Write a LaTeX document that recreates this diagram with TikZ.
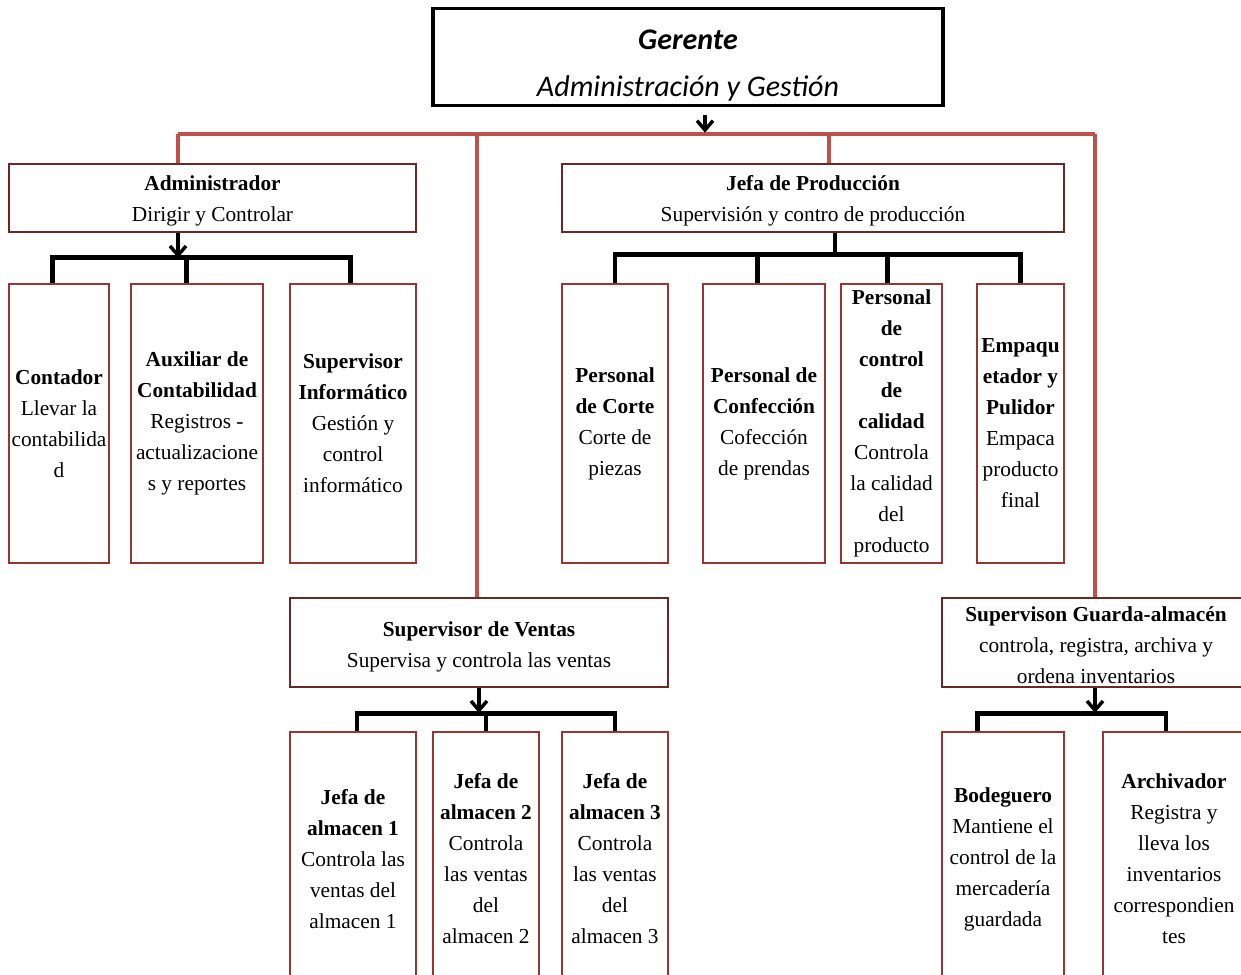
\documentclass[tikz,border=0pt]{standalone}
\usepackage{fontspec}
\setmainfont{Liberation Serif}
\newfontfamily\gerfont{Carlito}
\usepackage{tikz}
\usetikzlibrary{
  arrows.meta,
  positioning,
  calc
}
\definecolor{buscolor}{RGB}{192, 80, 77}
\definecolor{headborder}{RGB}{105, 40, 38}
\definecolor{unitborder}{RGB}{148, 54, 52}
\definecolor{labelcolor}{RGB}{0, 0, 0}
\tikzset{
blocktext/.style={
  align=center,
  font=\fontsize{16}{23.25}\selectfont,
  text=labelcolor,
  inner sep=0pt
},
gerblock/.style={
  draw=black,
  line width=2.4pt,
  minimum width=382.5pt,
  minimum height=70.5pt,
  align=center,
  font=\gerfont\fontsize{22.5}{26}\selectfont
},
headblock/.style={
  draw=headborder,
  line width=2.2pt,
  minimum height=51pt,
  blocktext
},
unitblock/.style={
  draw=unitborder,
  line width=2.2pt,
  minimum height=209.25pt,
  blocktext
},
lowblock/.style={
  unitblock,
  minimum height=190.5pt
},
busline/.style={
  draw=buscolor,
  line width=3pt
},
bracket/.style={
  draw=black,
  line width=3.4pt,
  line join=miter
},
arrow/.style={
  -{Straight Barb[length=7pt,width=12pt]},
  line width=2.6pt,
  draw=black
}
}
\begin{document}
\begin{tikzpicture}[x=0.75pt, y=-0.75pt]
  \useasboundingbox (0,0) rectangle (1241,974);
  \clip (0,0) rectangle (1241,974);

  % Top
  \node[gerblock] (ger) at (688,57)
    {\rule{0pt}{28pt}\textbf{\textit{Gerente}}\\[9pt]\textit{Administración y Gestión}};

  % Second level
  \node[headblock, minimum width=305.25pt] (adm) at (212.5,198)
    {\rule{0pt}{16pt}\textbf{Administrador}\\Dirigir y Controlar};
  \node[headblock, minimum width=376.5pt] (prod) at (813,198)
    {\rule{0pt}{16pt}\textbf{Jefa de Producción}\\Supervisión y contro de producción};
  \node[headblock, minimum width=283.5pt, minimum height=66.75pt] (ventas) at (479,642.5)
    {\rule{0pt}{17pt}\textbf{Supervisor de Ventas}\\Supervisa y controla las ventas};
  \node[headblock, minimum width=231pt, minimum height=66.75pt] (guarda) at (1096,642.5)
    {\rule{0pt}{15pt}\textbf{Supervison Guarda-almacén}\\controla, registra, archiva y\\ordena inventarios};

  % Units below Administrador
  \node[unitblock, minimum width=75pt] (cont) at (59,423.5)
    {\textbf{Contador}\\Llevar la\\contabilida\\d};
  \node[unitblock, minimum width=99pt] (aux) at (197,423.5)
    {\textbf{Auxiliar de}\\\textbf{Contabilidad}\\Registros -\\actualizacione\\s y reportes};
  \node[unitblock, minimum width=94.5pt] (inf) at (353,423.5)
    {\textbf{Supervisor}\\\textbf{Informático}\\Gestión y\\control\\informático};

  % Units below Jefa de Produccion
  \node[unitblock, minimum width=79.5pt] (corte) at (615,423.5)
    {\textbf{Personal}\\\textbf{de Corte}\\Corte de\\piezas};
  \node[unitblock, minimum width=91.5pt] (conf) at (764,423.5)
    {\textbf{Personal de}\\\textbf{Confección}\\Cofección\\de prendas};
  \node[unitblock, minimum width=75.75pt] (cal) at (891.5,423.5)
    {\textbf{Personal}\\\textbf{de}\\\textbf{control}\\\textbf{de}\\\textbf{calidad}\\Controla\\la calidad\\del\\producto};
  \node[unitblock, minimum width=65.25pt] (emp) at (1020.5,423.5)
    {\textbf{Empaqu}\\\textbf{etador y}\\\textbf{Pulidor}\\Empaca\\producto\\final};

  % Units below Supervisor de Ventas
  \node[lowblock, minimum width=94.5pt] (alm1) at (353,859)
    {\textbf{Jefa de}\\\textbf{almacen 1}\\Controla las\\ventas del\\almacen 1};
  \node[lowblock, minimum width=79.5pt] (alm2) at (486,859)
    {\textbf{Jefa de}\\\textbf{almacen 2}\\Controla\\las ventas\\del\\almacen 2};
  \node[lowblock, minimum width=79.5pt] (alm3) at (615,859)
    {\textbf{Jefa de}\\\textbf{almacen 3}\\Controla\\las ventas\\del\\almacen 3};

  % Units below Supervison Guarda-almacen
  \node[lowblock, minimum width=91.5pt] (bod) at (1003,859)
    {\textbf{Bodeguero}\\Mantiene el\\control de la\\mercadería\\guardada};
  \node[lowblock, minimum width=106.5pt] (arch) at (1174,859)
    {\textbf{Archivador}\\Registra y\\lleva los\\inventarios\\correspondien\\tes};

  % Red bus from Gerente
  \coordinate (b1) at (178,134);
  \coordinate (b2) at (477,134);
  \coordinate (b3) at (829,134);
  \coordinate (b4) at (1095,134);
  \coordinate (g) at (705,134);
  \draw[busline] (b1) -- (b4);
  \draw[busline] (b1) -- (b1 |- adm.north);
  \draw[busline] (b2) -- (b2 |- ventas.north);
  \draw[busline] (b3) -- (b3 |- prod.north);
  \draw[busline] (b4) -- (b4 |- guarda.north);
  \draw[arrow, shorten <=6pt, shorten >=1pt] (ger.south -| g) -- (g);

  % Brackets
  \coordinate (a1) at (178,258);
  \draw[arrow] (adm.south -| a1) -- (a1);
  \draw[bracket] ([xshift=-5pt]cont.north) -- ++(0,-25) -| ([xshift=-2pt]inf.north);
  \draw[bracket] ([xshift=-8pt]aux.north) -- ++(0,-25);

  \coordinate (p1) at (835,256);
  \draw[bracket] (prod.south -| p1) -- (p1);
  \draw[bracket] (corte.north) -- ++(0,-28) -| (emp.north);
  \draw[bracket] ([xshift=-5pt]conf.north) -- ++(0,-28);
  \draw[bracket] ([xshift=-3pt]cal.north) -- ++(0,-28);

  \coordinate (v1) at (479,713);
  \draw[arrow] (ventas.south -| v1) -- (v1);
  \draw[bracket] ([xshift=3pt]alm1.north) -- ++(0,-17) -| (alm3.north);
  \draw[bracket] (alm2.north) -- ++(0,-17);

  \coordinate (s1) at (1095,713);
  \draw[arrow] (guarda.south -| s1) -- (s1);
  \draw[bracket] ([xshift=-19pt]bod.north) -- ++(0,-17) -| ([xshift=-6pt]arch.north);
\end{tikzpicture}
\end{document}
